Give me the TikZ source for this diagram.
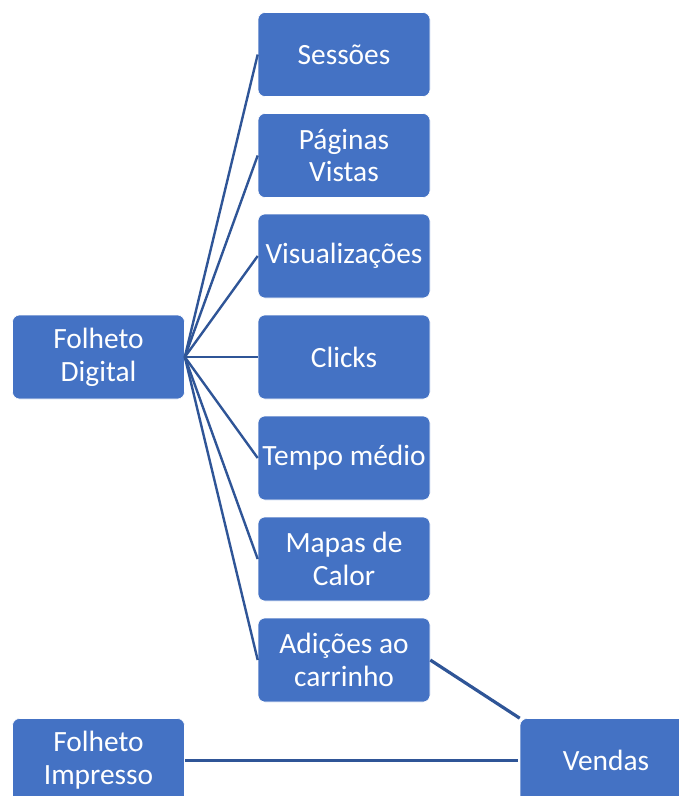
\documentclass[tikz,border=0pt]{standalone}
\usepackage{fontspec}
\setmainfont{Carlito}
\definecolor{boxblue}{HTML}{4472C4}
\definecolor{linkblue}{HTML}{2F5597}
\begin{document}
\begin{tikzpicture}[x=1bp,y=-1bp,
  box/.style={fill=boxblue, draw=white, line width=0.6bp, rounded corners=7bp,
    minimum width=172bp, minimum height=84bp, inner sep=1bp,
    text=white, align=center, font=\fontsize{29.5}{33}\selectfont},
  link/.style={draw=linkblue, line width=2.4bp}]
\useasboundingbox (0,0) rectangle (679,796);
\clip (0,0) rectangle (679,796);
\node[box] (dig) at (98.5,357) {Folheto\\Digital};
\node[box] (ses) at (344,54.5) {Sessões};
\node[box] (pag) at (344,155.5) {Páginas\\Vistas};
\node[box] (vis) at (344,256) {Visualizações};
\node[box] (cli) at (344,357) {Clicks};
\node[box] (tem) at (344,458) {Tempo médio};
\node[box] (map) at (344,559) {Mapas de\\Calor};
\node[box] (adi) at (344,660) {Adições ao\\carrinho};
\node[box] (imp) at (98.5,760.5) {Folheto\\Impresso};
\node[box] (ven) at (606,760.5) {Vendas};
\foreach \t in {ses,pag,vis,cli,tem,map,adi}
  \draw[link] (dig.east) -- (\t.west);
\draw[link, line width=3.2bp] (adi.east) -- (ven.north west);
\draw[link] (imp.east) -- ([xshift=-2bp]ven.west);
\end{tikzpicture}
\end{document}
